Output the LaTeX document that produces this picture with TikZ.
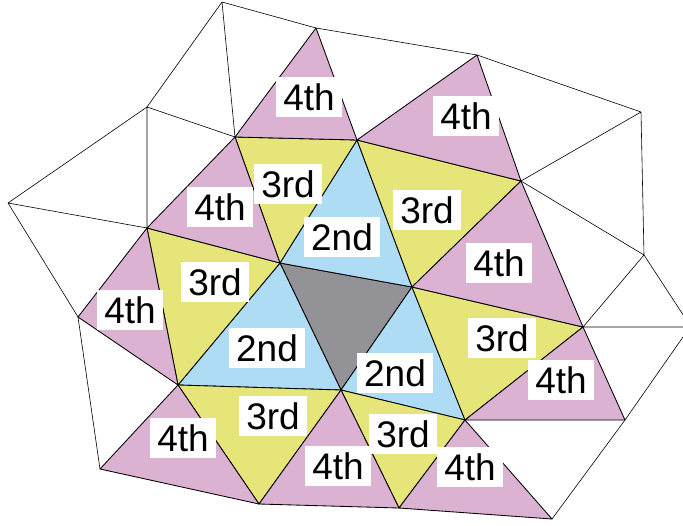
\documentclass[tikz,border=0pt]{standalone}
\usepackage{fontspec}
\setmainfont{Liberation Sans}
\definecolor{pinkfill}{RGB}{220,178,210}
\definecolor{yellowfill}{RGB}{229,229,122}
\definecolor{bluefill}{RGB}{174,220,245}
\definecolor{grayfill}{RGB}{147,147,151}
\begin{document}
\begin{tikzpicture}[x=1pt,y=-1pt,
  thinedge/.style={draw=black,line width=0.6pt,line join=round},
  coloredge/.style={draw=black,line width=0.85pt,line join=round},
  fourth/.style={coloredge,fill=pinkfill},
  third/.style={coloredge,fill=yellowfill},
  second/.style={coloredge,fill=bluefill},
  first/.style={coloredge,fill=grayfill},
  lab/.style={fill=white,inner xsep=7pt,inner ysep=6.5pt,text height=27pt,text depth=0pt,
    font=\fontsize{37}{40}\selectfont}]
\useasboundingbox (0,0) rectangle (683,525);
\clip (0,0) rectangle (683,525);
% vertices
\coordinate (A) at (222,2);
\coordinate (B) at (316,28);
\coordinate (C) at (147,107);
\coordinate (D) at (235,137);
\coordinate (E) at (8,203);
\coordinate (F) at (147,228);
\coordinate (G) at (280,263);
\coordinate (H) at (477,55);
\coordinate (I) at (641,112);
\coordinate (J) at (357,140);
\coordinate (K) at (521,181);
\coordinate (L) at (644,255);
\coordinate (M) at (78,317);
\coordinate (N) at (178,385);
\coordinate (O) at (100,469);
\coordinate (P) at (259,504);
\coordinate (Q) at (341,390);
\coordinate (R) at (412,287);
\coordinate (S) at (583,327);
\coordinate (T) at (465,420);
\coordinate (U) at (625,420);
\coordinate (V) at (399,508);
\coordinate (W) at (552,519);
\coordinate (X1) at (700,340.7);
\coordinate (X2) at (700,327);
\coordinate (X3) at (700,312.7);
% white mesh lines
\draw[thinedge] (C)--(A)--(B) (A)--(D)--(C)--(E)--(F)--(C) (E)--(M)--(O)
  (B)--(H)--(I)--(K) (I)--(L)--(K) (L)--(S) (L)--(X1) (S)--(X2) (U)--(X3) (U)--(W);
% gray
\draw[first] (G)--(R)--(Q)--cycle;
% 2nd
\draw[second] (G)--(J)--(R)--cycle;
\draw[second] (G)--(N)--(Q)--cycle;
\draw[second] (R)--(Q)--(T)--cycle;
% 3rd
\draw[third] (D)--(J)--(G)--cycle;
\draw[third] (J)--(K)--(R)--cycle;
\draw[third] (F)--(G)--(N)--cycle;
\draw[third] (R)--(S)--(T)--cycle;
\draw[third] (N)--(Q)--(P)--cycle;
\draw[third] (Q)--(T)--(V)--cycle;
% 4th
\draw[fourth] (B)--(D)--(J)--cycle;
\draw[fourth] (J)--(H)--(K)--cycle;
\draw[fourth] (D)--(F)--(G)--cycle;
\draw[fourth] (K)--(S)--(R)--cycle;
\draw[fourth] (F)--(M)--(N)--cycle;
\draw[fourth] (S)--(U)--(T)--cycle;
\draw[fourth] (N)--(O)--(P)--cycle;
\draw[fourth] (P)--(Q)--(V)--cycle;
\draw[fourth] (T)--(V)--(W)--cycle;
% labels
\node[lab] (l1) at (309,97) {4th};
\node[lab] (l2) at (466,116) {4th};
\node[lab] (l3) at (288,184) {3rd};
\node[lab] (l4) at (220,207) {4th};
\node[lab] (l5) at (427,210) {3rd};
\node[lab] (l6) at (342,237) {2nd};
\node[lab] (l7) at (499,263) {4th};
\node[lab] (l8) at (215,282) {3rd};
\node[lab] (l9) at (130,310) {4th};
\node[lab] (l10) at (502,338) {3rd};
\node[lab] (l11) at (267,348) {2nd};
\node[lab] (l12) at (395,373) {2nd};
\node[lab] (l13) at (561,380) {4th};
\node[lab] (l14) at (273,416) {3rd};
\node[lab] (l15) at (403,434) {3rd};
\node[lab] (l16) at (183,438) {4th};
\node[lab] (l17) at (338,466) {4th};
\node[lab] (l18) at (470,467) {4th};
\end{tikzpicture}
\end{document}
